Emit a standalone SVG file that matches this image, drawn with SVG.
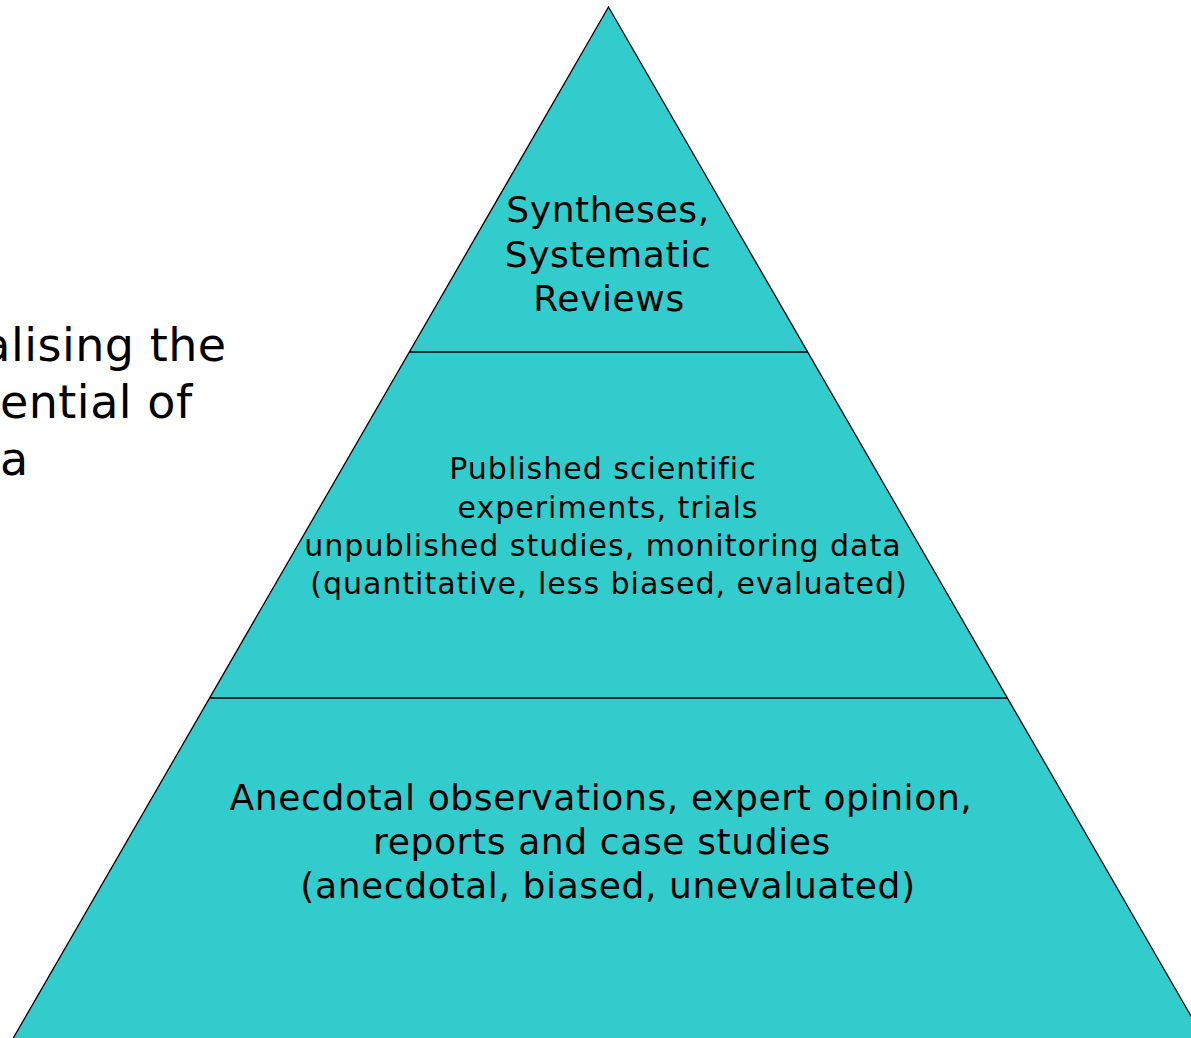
<svg xmlns="http://www.w3.org/2000/svg" width="1191" height="1038" viewBox="0 0 1191 1038">
<style>
  .t { font-family: "DejaVu Sans", Verdana, sans-serif; fill: #000; }
  .c { text-anchor: middle; }
  .sep { stroke: #000; stroke-width: 1.3; fill: none; }
  #title text { letter-spacing: 0.5px; }
  #tier-top text { letter-spacing: 0.65px; }
  #tier-middle text { letter-spacing: 1px; }
  #tier-bottom text { letter-spacing: 0.62px; }
</style>
<rect width="1191" height="1038" fill="#ffffff"/>
<g id="title">
  <text class="t" x="-77" y="361" font-size="46">Realising the</text>
  <text class="t" x="-77" y="418" font-size="46">potential of</text>
  <text class="t" x="-77" y="475" font-size="46">data</text>
</g>
<g id="pyramid">
  <polygon points="608.5,7 11,1042 1206,1042" fill="#33CCCC" stroke="#000" stroke-width="1.3"/>
</g>
<g id="connectors">
  <line class="sep" x1="409.5" y1="352" x2="807.5" y2="352"/>
  <line class="sep" x1="209.5" y1="698" x2="1007.5" y2="698"/>
</g>
<g id="tier-top">
  <text class="t c" x="608" y="222" font-size="36">Syntheses,</text>
  <text class="t c" x="608" y="267" font-size="36">Systematic</text>
  <text class="t c" x="609" y="311" font-size="36">Reviews</text>
</g>
<g id="tier-middle">
  <text class="t c" x="603" y="479" font-size="30">Published scientific</text>
  <text class="t c" x="608" y="518" font-size="30">experiments, trials</text>
  <text class="t c" x="603" y="556" font-size="30">unpublished studies, monitoring data</text>
  <text class="t c" x="609" y="594" font-size="30">(quantitative, less biased, evaluated)</text>
</g>
<g id="tier-bottom">
  <text class="t c" x="601" y="810" font-size="36">Anecdotal observations, expert opinion,</text>
  <text class="t c" x="602" y="854" font-size="36">reports and case studies</text>
  <text class="t c" x="608" y="898" font-size="36">(anecdotal, biased, unevaluated)</text>
</g>
</svg>
